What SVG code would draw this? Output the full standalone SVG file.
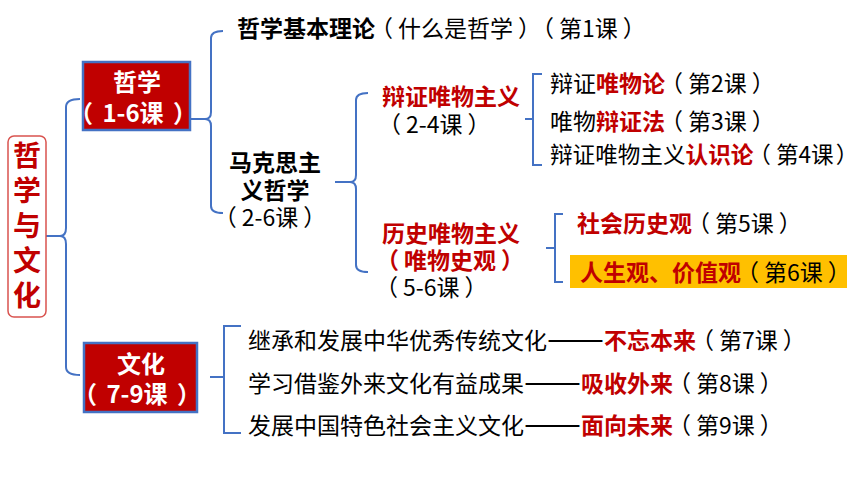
<svg xmlns="http://www.w3.org/2000/svg" width="860" height="484" viewBox="0 0 860 484">
<style>
text{font-family:"Noto Sans CJK SC","Noto Sans",sans-serif;font-size:23px;fill:#000;text-spacing-trim:space-all}
.b{font-weight:700}
.r{fill:#c00000;font-weight:700}
.w{fill:#fff;font-weight:700;font-size:24px}
.d{font-size:34px}
.line{fill:none;stroke:#4472c4;stroke-width:2}
.box{fill:#c00000;stroke:#4472c4;stroke-width:2.5}
</style>
<rect width="860" height="484" fill="#fff"/>
<g id="connectors">
<path class="line" d="M46,236 H60 M80,99 Q66,99 66,107 V228 Q66,236 60,236 Q66,236 66,244 V367 Q66,375 80,375"/>
<path class="line" d="M191,119 H205 M223,31 Q211,31 211,38 V112 Q211,119 205,119 Q211,119 211,126 V206 Q211,213 223,213"/>
<path class="line" d="M335,182 H350 M368,93 Q356,93 356,100 V175 Q356,182 350,182 Q356,182 356,189 V265 Q356,272 368,272"/>
<path class="line" d="M525,119 H533 M542,74 H533 V165 H542"/>
<path class="line" d="M546,248 H555 M563,214 H555 V282 H563"/>
<path class="line" d="M210,377 H224 M241,326 H224 V433 H241"/>
</g>
<g id="root">
<rect x="8" y="136" width="38" height="181" rx="6" fill="#fff" stroke="#d9534f" stroke-width="1.5"/>
<text class="r" x="27" y="166" text-anchor="middle" style="font-size:28px">哲</text>
<text class="r" x="27" y="201" text-anchor="middle" style="font-size:28px">学</text>
<text class="r" x="27" y="236" text-anchor="middle" style="font-size:28px">与</text>
<text class="r" x="27" y="271" text-anchor="middle" style="font-size:28px">文</text>
<text class="r" x="27" y="306" text-anchor="middle" style="font-size:28px">化</text>
</g>
<g id="philosophy">
<rect class="box" x="83" y="62" width="107" height="68"/>
<text class="w" x="137" y="91" text-anchor="middle">哲学</text>
<text class="w" x="137" y="122" text-anchor="middle"><tspan dx="-4">（</tspan><tspan dx="4"> 1-6课 </tspan><tspan dx="4">）</tspan></text>
</g>
<g id="culture">
<rect class="box" x="84" y="343" width="113" height="69"/>
<text class="w" x="141" y="373" text-anchor="middle">文化</text>
<text class="w" x="141" y="403" text-anchor="middle"><tspan dx="-4">（</tspan><tspan dx="4"> 7-9课 </tspan><tspan dx="4">）</tspan></text>
</g>
<g id="basic">
<text x="237" y="37"><tspan class="b">哲学基本理论</tspan><tspan dx="-5">（</tspan><tspan dx="5">什么是哲学</tspan><tspan dx="5">）</tspan><tspan dx="-10">（</tspan><tspan dx="5">第1课</tspan><tspan dx="5">）</tspan></text>
</g>
<g id="marxism">
<text class="b" x="275" y="171" text-anchor="middle">马克思主</text>
<text class="b" x="275" y="199" text-anchor="middle">义哲学</text>
<text x="275" y="226" text-anchor="middle"><tspan dx="-5">（</tspan><tspan dx="5">2-6课</tspan><tspan dx="5">）</tspan></text>
</g>
<g id="dialectical">
<text class="r" x="382" y="105">辩证唯物主义</text>
<text x="383" y="133"><tspan dx="-5">（</tspan><tspan dx="5">2-4课</tspan><tspan dx="5">）</tspan></text>
</g>
<g id="historical">
<text class="r" x="382" y="242">历史唯物主义</text>
<text class="r" x="381" y="269"><tspan dx="-5">（</tspan><tspan dx="5">唯物史观</tspan><tspan dx="5">）</tspan></text>
<text x="380" y="296"><tspan dx="-5">（</tspan><tspan dx="5">5-6课</tspan><tspan dx="5">）</tspan></text>
</g>
<g id="lesson2"><text x="550" y="92">辩证<tspan class="r">唯物论</tspan><tspan dx="-5">（</tspan><tspan dx="5">第2课</tspan><tspan dx="5">）</tspan></text></g>
<g id="lesson3"><text x="550" y="130">唯物<tspan class="r">辩证法</tspan><tspan dx="-5">（</tspan><tspan dx="5">第3课</tspan><tspan dx="5">）</tspan></text></g>
<g id="lesson4"><text x="550" y="163" style="font-size:22.6px">辩证唯物主义<tspan class="r">认识论</tspan><tspan dx="-5">（</tspan><tspan dx="5">第4课</tspan><tspan dx="2">）</tspan></text></g>
<g id="lesson5"><text x="577" y="232"><tspan class="r">社会历史观</tspan><tspan dx="-5">（</tspan><tspan dx="5">第5课</tspan><tspan dx="5">）</tspan></text></g>
<g id="lesson6">
<rect x="570" y="255" width="277" height="33" fill="#ffc000"/>
<text x="580" y="281"><tspan class="r">人生观、价值观</tspan><tspan dx="-5">（</tspan><tspan dx="5">第6课</tspan><tspan dx="5">）</tspan></text>
</g>
<g id="lesson7"><text x="248" y="349">继承和发展中华优秀传统文化<tspan class="d" dy="2">——</tspan><tspan class="r" dy="-2">不忘本来</tspan><tspan dx="-5">（</tspan><tspan dx="5">第7课</tspan><tspan dx="5">）</tspan></text></g>
<g id="lesson8"><text x="248" y="392">学习借鉴外来文化有益成果<tspan class="d" dy="2">——</tspan><tspan class="r" dy="-2">吸收外来</tspan><tspan dx="-5">（</tspan><tspan dx="5">第8课</tspan><tspan dx="5">）</tspan></text></g>
<g id="lesson9"><text x="248" y="434">发展中国特色社会主义文化<tspan class="d" dy="2">——</tspan><tspan class="r" dy="-2">面向未来</tspan><tspan dx="-5">（</tspan><tspan dx="5">第9课</tspan><tspan dx="5">）</tspan></text></g>
</svg>
